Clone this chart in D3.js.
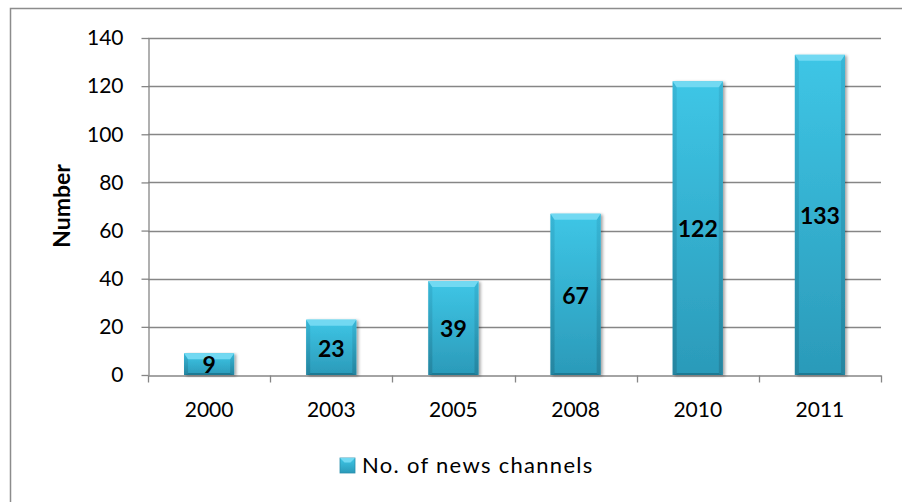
<!DOCTYPE html>
<html>
<head>
<meta charset="utf-8">
<script src="https://cdn.jsdelivr.net/npm/d3@7/dist/d3.min.js"></script>
<style>
  html, body { margin: 0; padding: 0; background: #fff; }
  svg { display: block; font-family: Lato, "Open Sans", "Liberation Sans", sans-serif; }
</style>
</head>
<body>
<svg id="chart" width="902" height="502"></svg>
<script>
// Number of news channels by year
const years = ["2000", "2003", "2005", "2008", "2010", "2011"];
const channels = [9, 23, 39, 67, 122, 133];
const yTicks = [0, 20, 40, 60, 80, 100, 120, 140];
const seriesName = "No. of news channels";
const yTitle = "Number";

const svg = d3.select("#chart");
const margin = { left: 148, right: 21, top: 38, bottom: 127 };
const W = 902, H = 502;

// outer chart frame
svg.append("rect")
  .attr("x", 10.5).attr("y", 8.5)
  .attr("width", 900).attr("height", 510)
  .attr("fill", "none").attr("stroke", "#8c8c8c").attr("stroke-width", 1.5);

const x = d3.scaleBand().domain(years)
  .range([margin.left, W - margin.right]).paddingInner(0.59).paddingOuter(0.295);
const xBand = d3.scaleBand().domain(years).range([margin.left, W - margin.right]);
const y = d3.scaleLinear().domain([0, 140]).range([H - margin.bottom, margin.top]);

const defs = svg.append("defs");
const face = defs.append("linearGradient").attr("id", "face")
  .attr("x1", 0).attr("y1", 0).attr("x2", 0).attr("y2", 1);
face.append("stop").attr("offset", 0).attr("stop-color", "#3ec6e6");
face.append("stop").attr("offset", 1).attr("stop-color", "#2b9ab9");
const sideL = defs.append("linearGradient").attr("id", "sideL")
  .attr("x1", 0).attr("y1", 0).attr("x2", 0).attr("y2", 1);
sideL.append("stop").attr("offset", 0).attr("stop-color", "#36b3d3");
sideL.append("stop").attr("offset", 1).attr("stop-color", "#237f99");
const shadow = defs.append("filter").attr("id", "shadow")
  .attr("x", "-20%").attr("y", "-5%").attr("width", "150%").attr("height", "115%");
shadow.append("feDropShadow").attr("dx", 2).attr("dy", 1).attr("stdDeviation", 1.6)
  .attr("flood-color", "#000").attr("flood-opacity", 0.35);

// gridlines
const grid = svg.append("g");
grid.selectAll("line").data(yTicks.filter(t => t > 0)).join("line")
  .attr("x1", margin.left).attr("x2", W - margin.right)
  .attr("y1", d => Math.round(y(d)) + 0.5).attr("y2", d => Math.round(y(d)) + 0.5)
  .attr("stroke", "#868686").attr("stroke-width", 1.3);

// y axis
const yAxis = svg.append("g")
  .attr("transform", `translate(${margin.left + 0.5},0)`)
  .call(d3.axisLeft(y).tickValues(yTicks).tickSize(7).tickPadding(18).tickSizeOuter(0));
yAxis.select(".domain").attr("stroke", "#868686").attr("stroke-width", 1.3);
yAxis.selectAll(".tick line").attr("stroke", "#868686").attr("stroke-width", 1.3);
yAxis.selectAll(".tick text").attr("font-size", 21).attr("fill", "#000")
  .attr("font-family", "Lato, 'Open Sans', sans-serif");

// x axis
const xAxis = svg.append("g")
  .attr("transform", `translate(0,${Math.round(y(0)) + 0.5})`)
  .call(d3.axisBottom(xBand).tickSize(0).tickPadding(27).tickSizeOuter(0));
xAxis.select(".domain").attr("stroke", "#868686").attr("stroke-width", 1.3);
xAxis.selectAll(".tick text").attr("font-size", 21).attr("fill", "#000")
  .attr("dy", 0).attr("font-family", "Lato, 'Open Sans', sans-serif");
xAxis.selectAll(".sep").data(years.map(d => xBand(d)).concat([W - margin.right])).join("line")
  .attr("class", "sep")
  .attr("x1", d => Math.round(d) + 0.5).attr("x2", d => Math.round(d) + 0.5)
  .attr("y1", 0).attr("y2", 7)
  .attr("stroke", "#868686").attr("stroke-width", 1.3);
xAxis.selectAll(".tick text").attr("y", 41.5);

// bevelled bars
const bev = 6;
const bars = svg.append("g").selectAll("g").data(years.map((yr, i) => ({ yr, v: channels[i] })))
  .join("g").attr("filter", "url(#shadow)");
bars.each(function(d) {
  const g = d3.select(this);
  const x0 = x(d.yr), w = x.bandwidth();
  const y0 = y(d.v), y1 = y(0);
  const b = Math.min(bev, (y1 - y0) / 2);
  g.append("rect").attr("x", x0).attr("y", y0).attr("width", w).attr("height", y1 - y0)
    .attr("fill", "url(#face)");
  // left and right edges
  g.append("path").attr("d", `M${x0},${y0}L${x0 + 4},${y0 + b}L${x0 + 4},${y1 - 2}L${x0},${y1}Z`)
    .attr("fill", "url(#sideL)").attr("opacity", 0.8);
  g.append("path").attr("d", `M${x0 + w},${y0}L${x0 + w - 4},${y0 + b}L${x0 + w - 4},${y1 - 2}L${x0 + w},${y1}Z`)
    .attr("fill", "url(#sideL)").attr("opacity", 0.8);
  // top cap
  g.append("path").attr("d", `M${x0},${y0}L${x0 + w},${y0}L${x0 + w - 4},${y0 + b}L${x0 + 4},${y0 + b}Z`)
    .attr("fill", "#72d9f2");
  // bottom edge
  g.append("path").attr("d", `M${x0},${y1}L${x0 + w},${y1}L${x0 + w - 4},${y1 - 2}L${x0 + 4},${y1 - 2}Z`)
    .attr("fill", "#1f7a94");
});

// value labels at bar centres
svg.append("g").selectAll("text").data(years.map((yr, i) => ({ yr, v: channels[i] })))
  .join("text")
  .attr("x", d => x(d.yr) + x.bandwidth() / 2)
  .attr("y", d => (y(d.v) + y(0)) / 2 + 1)
  .attr("dy", "0.36em")
  .attr("text-anchor", "middle")
  .attr("font-size", 23).attr("font-weight", "bold").attr("fill", "#000")
  .text(d => d.v);

// y axis title
svg.append("text")
  .attr("transform", `translate(70,206) rotate(-90)`)
  .attr("text-anchor", "middle")
  .attr("font-size", 23).attr("font-weight", "bold").attr("fill", "#000")
  .text(yTitle);

// legend
const lg = svg.append("g").attr("transform", "translate(340,458)");
lg.append("rect").attr("width", 15).attr("height", 15).attr("fill", "url(#face)")
  .attr("stroke", "#2a8fad").attr("stroke-width", 0.8);
lg.append("path").attr("d", "M0,0L15,0L10.5,4.5L4.5,4.5Z").attr("fill", "#72d9f2");
lg.append("text").attr("x", 22).attr("y", 15)
  .attr("font-size", 22).attr("letter-spacing", 1.3).attr("fill", "#000")
  .text(seriesName);
</script>
</body>
</html>
